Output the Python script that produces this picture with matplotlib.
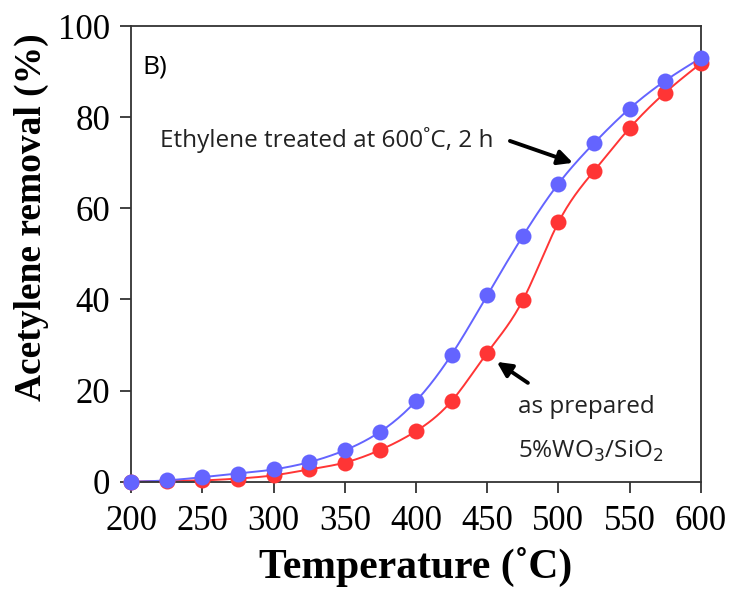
import matplotlib.pyplot as plt
import numpy as np

temperature = [200, 225, 250, 275, 300, 325, 350, 375, 400, 425, 450, 475, 500, 525, 550, 575, 600]
treated = [0.0, 0.3, 1.0, 1.8, 2.7, 4.3, 6.9, 11.0, 17.7, 27.9, 40.9, 53.9, 65.4, 74.3, 81.9, 88.0, 93.0]
prepared = [0.0, 0.2, 0.3, 0.7, 1.4, 2.7, 4.2, 7.0, 11.1, 17.7, 28.3, 39.8, 56.9, 68.2, 77.6, 85.4, 91.8]

BLUE = "#6464ff"
RED = "#ff3535"


def spline(x, y, xs):
    """Natural cubic spline through the points."""
    x = np.asarray(x, float)
    y = np.asarray(y, float)
    n = len(x)
    h = np.diff(x)
    A = np.zeros((n, n))
    b = np.zeros(n)
    A[0, 0] = A[-1, -1] = 1
    for k in range(1, n - 1):
        A[k, k - 1] = h[k - 1]
        A[k, k] = 2 * (h[k - 1] + h[k])
        A[k, k + 1] = h[k]
        b[k] = 6 * ((y[k + 1] - y[k]) / h[k] - (y[k] - y[k - 1]) / h[k - 1])
    M = np.linalg.solve(A, b)
    i = np.clip(np.searchsorted(x, xs) - 1, 0, n - 2)
    a = x[i + 1] - xs
    c = xs - x[i]
    hi = h[i]
    return (M[i] * a**3 / (6 * hi) + M[i + 1] * c**3 / (6 * hi)
            + (y[i] / hi - M[i] * hi / 6) * a + (y[i + 1] / hi - M[i + 1] * hi / 6) * c)


fig = plt.figure(figsize=(7.33, 5.94), dpi=100)
ax = fig.add_axes([0.179, 0.189, 0.777, 0.767])

xs = np.linspace(200, 600, 400)
for ys, c in [(prepared, RED), (treated, BLUE)]:
    ax.plot(xs, np.maximum(spline(temperature, ys, xs), 0), color=c, lw=1.4, clip_on=False)
    ax.plot(temperature, ys, "o", color=c, ms=11.5, mew=0, clip_on=False, zorder=3)

ax.set_xlim(200, 600)
ax.set_ylim(0, 100)
ax.set_xticks(range(200, 601, 50))
ax.set_yticks(range(0, 101, 20))

serif = "Liberation Serif"
for lab in ax.get_xticklabels() + ax.get_yticklabels():
    lab.set_family(serif)
    lab.set_fontsize(25)
ax.tick_params(direction="out", length=8, width=1.3, color="#333333")
ax.tick_params(axis="x", pad=9)
ax.tick_params(axis="y", pad=7)
for s in ax.spines.values():
    s.set_color("#333333")
    s.set_linewidth(1.3)

ax.set_xlabel("Temperature (\u02daC)", family=serif, fontsize=30, fontweight="bold", labelpad=6)
ax.set_ylabel("Acetylene removal (%)", family=serif, fontsize=27, fontweight="bold")
ax.yaxis.set_label_coords(-0.145, 0.58)

sans = "Open Sans"
ax.text(207.5, 91, "B)", family=sans, fontsize=19, va="center", ha="left")
ax.text(220.5, 75, "Ethylene treated at 600\u02daC, 2 h", family=sans, fontsize=17.5,
        va="center", ha="left", color="#222222")
ax.text(471.5, 16.4, "as prepared", family=sans, fontsize=17.5, va="center", ha="left",
        color="#222222")
ax.text(471.5, 6.6, "5%WO$_3$/SiO$_2$", family=sans, fontsize=17.5, va="center", ha="left",
        color="#222222")

arrow = dict(arrowstyle="-|>", color="black", lw=2.8, mutation_scale=22, shrinkA=0, shrinkB=0)
ax.annotate("", xy=(510.2, 70.0), xytext=(466, 74.8), arrowprops=arrow)
ax.annotate("", xy=(456.8, 26.3), xytext=(478.6, 21.7), arrowprops=arrow)

fig.savefig("out.png", dpi=100)
